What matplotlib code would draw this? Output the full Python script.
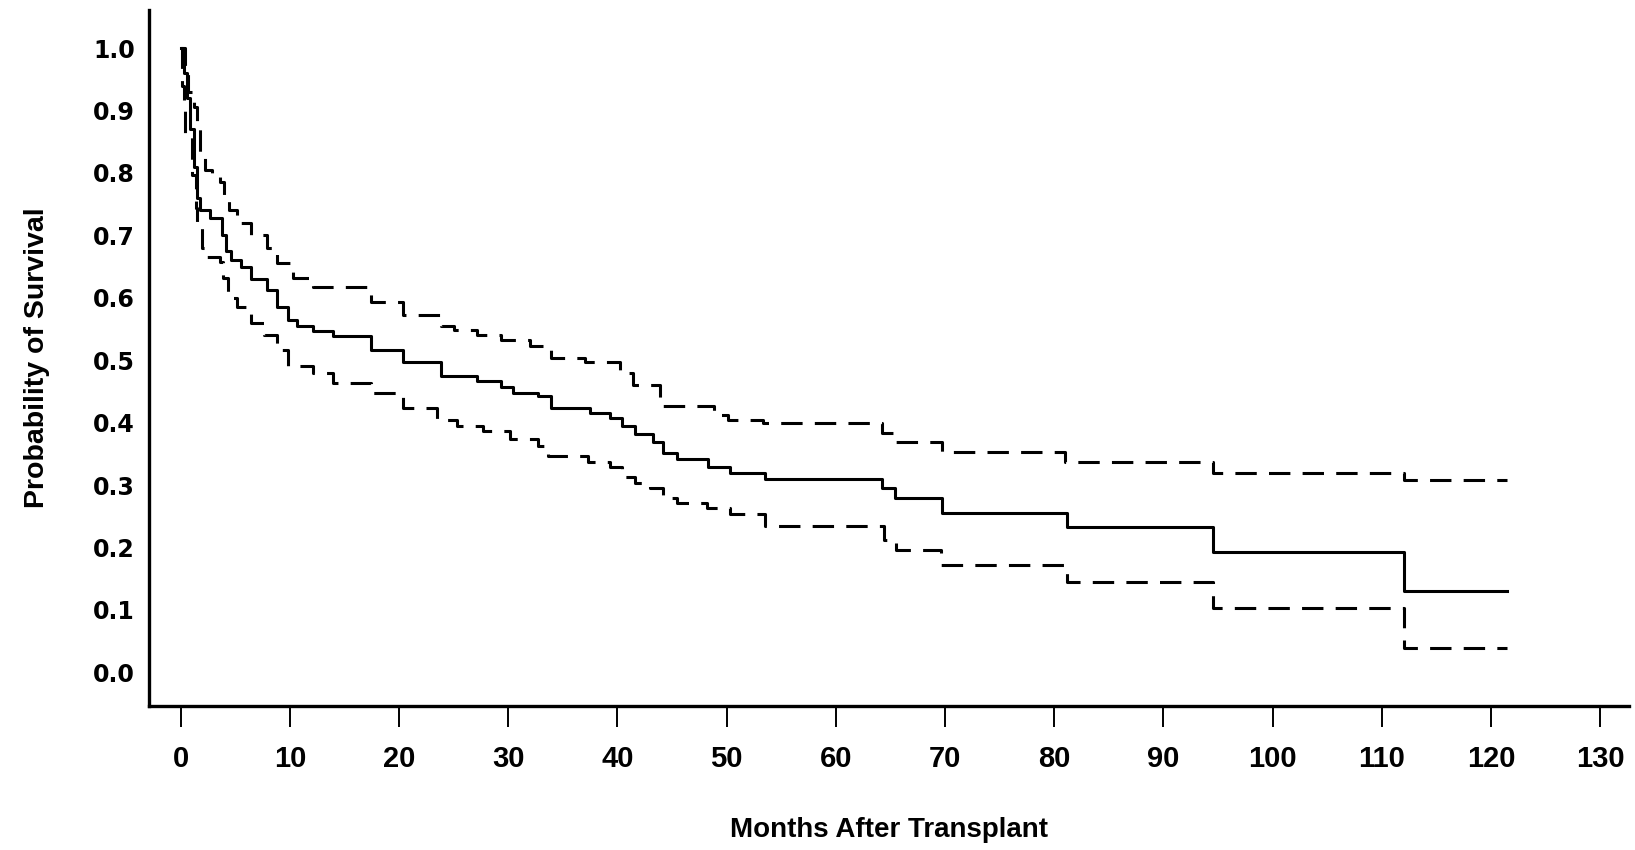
import numpy as np
import matplotlib.pyplot as plt

# Kaplan-Meier estimate, months after transplant
t_surv = [0, 0.3, 0.6, 0.9, 1.2, 1.5, 1.8, 2.7, 3.8, 4.2, 4.6, 5.5, 6.4, 7.9, 8.8,
          9.8, 10.7, 12.1, 14.0, 17.4, 20.4, 23.8, 27.1, 29.3, 30.4, 32.7, 33.9,
          37.5, 39.3, 40.4, 41.6, 43.3, 44.2, 45.5, 48.3, 50.3, 53.5, 64.2, 65.4,
          69.7, 81.2, 94.5, 112.0]
surv = [1.00, 0.96, 0.92, 0.87, 0.81, 0.76, 0.74, 0.728, 0.70, 0.675, 0.66, 0.65,
        0.63, 0.613, 0.586, 0.565, 0.554, 0.546, 0.539, 0.517, 0.497, 0.475, 0.466,
        0.457, 0.448, 0.442, 0.424, 0.416, 0.408, 0.394, 0.381, 0.369, 0.352, 0.341,
        0.329, 0.320, 0.310, 0.296, 0.280, 0.256, 0.232, 0.193, 0.131]
t_end = 121.5

# upper confidence limit
t_up = [0, 0.4, 0.7, 1.2, 1.5, 1.8, 2.2, 2.9, 3.6, 4.0, 4.4, 5.2, 6.4, 7.9, 8.8,
        10.3, 12.1, 17.4, 20.4, 23.8, 25.0, 27.1, 29.3, 32.0, 33.9, 37.0, 40.2,
        41.4, 43.9, 48.8, 50.1, 53.3, 64.2, 65.4, 69.7, 81.0, 94.5, 112.0]
upper = [1.00, 0.96, 0.93, 0.905, 0.87, 0.834, 0.805, 0.797, 0.786, 0.76, 0.741,
         0.72, 0.70, 0.68, 0.656, 0.632, 0.618, 0.594, 0.573, 0.554, 0.549, 0.541,
         0.533, 0.522, 0.504, 0.497, 0.48, 0.461, 0.426, 0.413, 0.405, 0.400, 0.384,
         0.369, 0.353, 0.337, 0.320, 0.308]

# lower confidence limit
t_lo = [0, 0.1, 0.3, 0.4, 1.0, 1.4, 1.5, 1.8, 2.0, 2.2, 3.6, 3.9, 4.3, 5.2, 6.4,
        7.6, 8.8, 9.8, 12.1, 14.0, 17.4, 20.4, 23.5, 25.3, 27.7, 30.2, 32.7, 33.6,
        37.3, 39.3, 40.4, 41.6, 43.0, 44.2, 45.5, 48.2, 50.3, 53.5, 64.4, 65.5,
        69.6, 81.2, 94.5, 112.0]
lower = [1.00, 0.94, 0.90, 0.86, 0.797, 0.744, 0.722, 0.712, 0.68, 0.666, 0.658,
         0.632, 0.60, 0.586, 0.56, 0.541, 0.517, 0.49, 0.48, 0.464, 0.448, 0.424,
         0.405, 0.394, 0.386, 0.373, 0.362, 0.346, 0.337, 0.329, 0.313, 0.304,
         0.296, 0.280, 0.272, 0.264, 0.253, 0.235, 0.212, 0.196, 0.172, 0.145,
         0.103, 0.039]

xticks = np.arange(0, 140, 10)
yticks = np.round(np.arange(0, 1.05, 0.1), 1)

fig = plt.figure(figsize=(16.35, 8.5), dpi=100)
ax = fig.add_axes([0.0911, 0.1694, 0.905, 0.8188])

ax.step(t_surv + [t_end], surv + [surv[-1]], where='post', color='black', lw=2.2)
dash = (0, (7, 4))
ax.step(t_up + [t_end], upper + [upper[-1]], where='post', color='black', lw=2.2,
        linestyle=dash)
ax.step(t_lo + [t_end], lower + [lower[-1]], where='post', color='black', lw=2.2,
        linestyle=dash)

ax.set_xlim(-2.9, 132.6)
ax.set_ylim(-0.054, 1.061)

for s in ['top', 'right']:
    ax.spines[s].set_visible(False)
for s in ['left', 'bottom']:
    ax.spines[s].set_linewidth(2.4)

ax.set_xticks(xticks)
ax.set_xticklabels([str(v) for v in xticks], fontsize=21, fontweight='bold',
                   family='Liberation Sans')
ax.set_yticks(yticks)
ax.set_yticklabels(['%.1f' % v for v in yticks], fontsize=17, fontweight='bold',
                   family='DejaVu Sans')
ax.tick_params(axis='x', direction='out', length=15, width=1.4, pad=13)
ax.tick_params(axis='y', length=0, pad=10)

ax.set_xlabel('Months After Transplant', fontsize=20, fontweight='bold',
              family='Liberation Sans', labelpad=32)
ax.set_ylabel('Probability of Survival', fontsize=20.5, fontweight='bold',
              family='Liberation Sans', labelpad=31)

fig.savefig('out.png', dpi=100)
